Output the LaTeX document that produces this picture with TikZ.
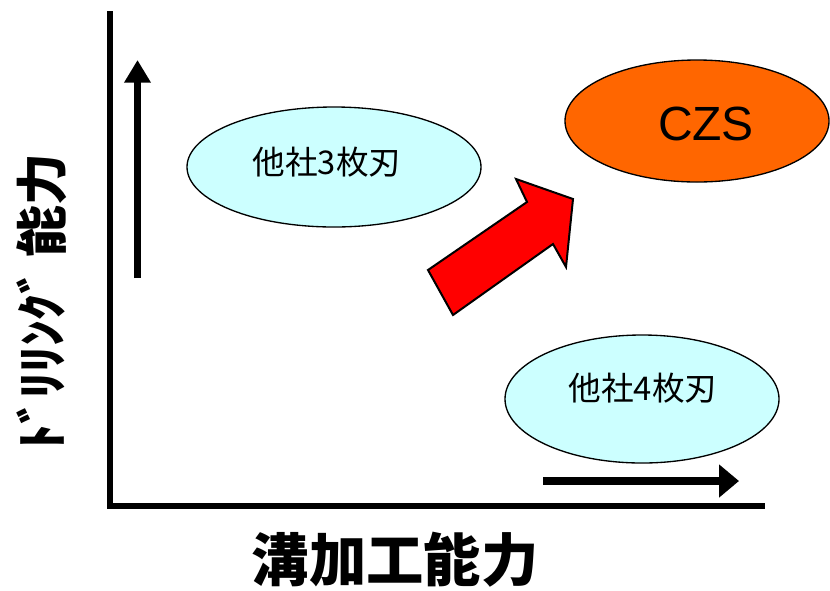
\documentclass[tikz,border=0pt]{standalone}
\usepackage{fontspec}
\setmainfont{Liberation Sans}
\newfontfamily\jpfont{Noto Sans CJK JP}
\usepackage{xcolor}
\usetikzlibrary{shapes,arrows.meta}
\definecolor{palecyan}{HTML}{CCFFFF}
\definecolor{czsorange}{HTML}{FF6600}

\begin{document}
\begin{tikzpicture}[x=0.75pt,y=0.75pt,yscale=-1,xscale=1]
  \useasboundingbox (0,0) rectangle (830,590);

    % Axes
    \draw [line width=5pt] (110,11) -- (110,506) -- (765,506);
    \draw [line width=5.5pt, -{Triangle[length=17pt,width=19pt]}] (137.5,278) -- (137.5,60);
    \draw [line width=5.5pt, -{Triangle[length=15pt,width=24pt]}] (543,481) -- (739,481);

    %Shape: Ellipse
    \draw (334,167) node [ellipse, draw, line width=1pt, fill=palecyan, inner sep=0pt, minimum width=220.5pt, minimum height=90pt] (other3) {};
    \draw (697,121) node [ellipse, draw, line width=1pt, fill=czsorange, inner sep=0pt, minimum width=198pt, minimum height=91.5pt] (czs) {};
    \draw (642,399) node [ellipse, draw, line width=1pt, fill=palecyan, inner sep=0pt, minimum width=205.5pt, minimum height=96pt] (other4) {};

    %Shape: Block Arrow
    \draw [fill=red, line width=1.5pt, line join=miter] (428,270) -- (527,202) -- (516,179) -- (573,199) -- (566,267) -- (553,244) -- (453,315) -- cycle;

    % Text Node
    \draw (327,162) node [inner sep=0.75pt] (txt3) {\jpfont\fontsize{24.5}{28}\selectfont 他社3枚刃};
    \draw (706,124) node [inner sep=0.75pt] (txtczs) {\fontsize{36}{40}\selectfont CZS};
    \draw (643,388) node [inner sep=0.75pt] (txt4) {\jpfont\fontsize{24.5}{28}\selectfont 他社4枚刃};
    % Text Node
    \draw (395,560) node [inner sep=0.75pt] (xlabel) {\jpfont\bfseries\fontsize{43}{46}\selectfont 溝加工能力};
    \draw (42,302) node [rotate=90, inner sep=0.75pt] (ylabel) {\jpfont\bfseries\fontsize{39}{44}\selectfont ﾄﾞﾘﾘﾝｸﾞ 能力};

\end{tikzpicture}
\end{document}
